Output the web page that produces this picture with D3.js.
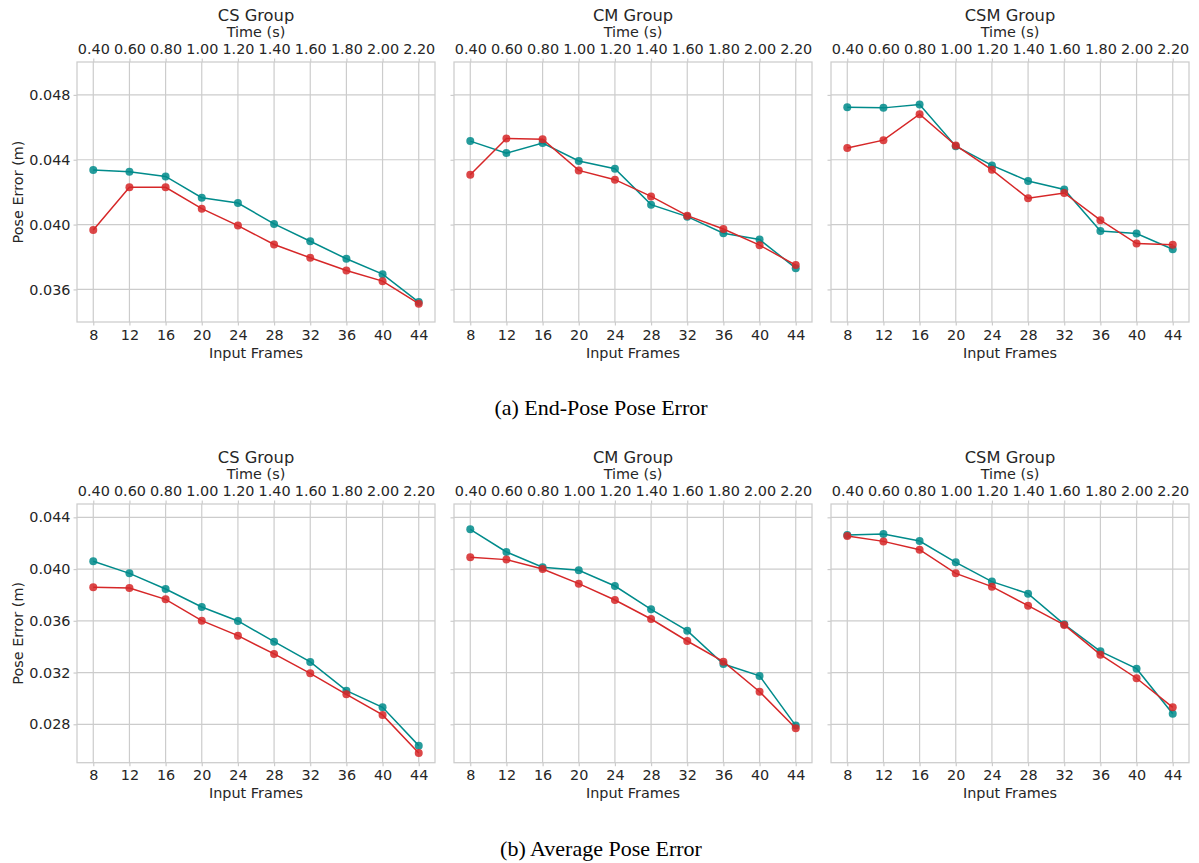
<!DOCTYPE html>
<html>
<head>
<meta charset="utf-8">
<script src="https://cdn.jsdelivr.net/npm/d3@7"></script>
<style>
  body { margin: 0; background: #fff; }
  .tick text { font-family: "DejaVu Sans", sans-serif; }
</style>
</head>
<body>
<div id="chart"></div>
<script>
// ---------------- data ----------------
var frames = [8, 12, 16, 20, 24, 28, 32, 36, 40, 44];
var timeLabels = ["0.40", "0.60", "0.80", "1.00", "1.20", "1.40", "1.60", "1.80", "2.00", "2.20"];
var groups = ["CS Group", "CM Group", "CSM Group"];
var captions = ["(a) End-Pose Pose Error", "(b) Average Pose Error"];

var endTicks = [0.036, 0.040, 0.044, 0.048];
var avgTicks = [0.028, 0.032, 0.036, 0.040, 0.044];

// end-pose error, teal / red series per group
var endCS_teal  = [0.04336, 0.04326, 0.04297, 0.04166, 0.04133, 0.04004, 0.03897, 0.03789, 0.03694, 0.03522];
var endCS_red   = [0.03967, 0.04230, 0.04230, 0.04098, 0.03994, 0.03877, 0.03795, 0.03717, 0.03651, 0.03512];
var endCM_teal  = [0.04515, 0.04441, 0.04503, 0.04392, 0.04345, 0.04123, 0.04049, 0.03947, 0.03908, 0.03731];
var endCM_red   = [0.04308, 0.04531, 0.04527, 0.04334, 0.04277, 0.04174, 0.04055, 0.03973, 0.03873, 0.03750];
var endCSM_teal = [0.04724, 0.04720, 0.04741, 0.04484, 0.04365, 0.04269, 0.04217, 0.03961, 0.03945, 0.03848];
var endCSM_red  = [0.04472, 0.04521, 0.04681, 0.04488, 0.04338, 0.04162, 0.04195, 0.04027, 0.03883, 0.03875];

// average pose error
var avgCS_teal  = [0.04060, 0.03967, 0.03846, 0.03707, 0.03599, 0.03439, 0.03282, 0.03060, 0.02931, 0.02635];
var avgCS_red   = [0.03859, 0.03854, 0.03766, 0.03601, 0.03485, 0.03344, 0.03194, 0.03032, 0.02872, 0.02578];
var avgCM_teal  = [0.04307, 0.04132, 0.04014, 0.03990, 0.03869, 0.03689, 0.03524, 0.03266, 0.03174, 0.02790];
var avgCM_red   = [0.04091, 0.04073, 0.04001, 0.03887, 0.03761, 0.03614, 0.03444, 0.03284, 0.03052, 0.02769];
var avgCSM_teal = [0.04263, 0.04271, 0.04217, 0.04052, 0.03903, 0.03810, 0.03573, 0.03364, 0.03230, 0.02882];
var avgCSM_red  = [0.04256, 0.04214, 0.04150, 0.03967, 0.03864, 0.03717, 0.03568, 0.03338, 0.03156, 0.02931];
// ---------------------------------------

var W = 1199, H = 863;
var TEAL = "#008b8b", RED = "#d62728";
var TEXT = "#262626", GRID = "#cccccc";
var panelX = [77, 454, 831];   // left edge of each plot frame
var panelW = 358;

var svg = d3.select("#chart").append("svg")
    .attr("width", W)
    .attr("height", H);

var rows = [
    { top: 62, height: 260, domain: [0.03399, 0.05003], ticks: endTicks,
      teal: [endCS_teal, endCM_teal, endCSM_teal], red: [endCS_red, endCM_red, endCSM_red], cap: 415 },
    { top: 504, height: 258.7, domain: [0.02503, 0.04503], ticks: avgTicks,
      teal: [avgCS_teal, avgCM_teal, avgCSM_teal], red: [avgCS_red, avgCM_red, avgCSM_red], cap: 856 }
];

function styleAxis(g) {
    g.select(".domain").remove();
    g.selectAll(".tick line").attr("stroke", GRID).attr("stroke-width", 1.2);
    g.selectAll(".tick text").attr("fill", TEXT).attr("font-size", "14.4px");
}

function drawPanel(row, p) {
    var x0 = panelX[p];
    var g = svg.append("g").attr("transform", "translate(" + x0 + "," + row.top + ")");
    var w = panelW, h = row.height;

    var x = d3.scaleLinear().domain([6.2, 45.8]).range([0, w]);
    var y = d3.scaleLinear().domain(row.domain).range([h, 0]);

    // grid
    g.append("g").selectAll("line").data(frames).join("line")
        .attr("x1", d => x(d)).attr("x2", d => x(d))
        .attr("y1", 0).attr("y2", h)
        .attr("stroke", GRID).attr("stroke-width", 1.2);
    g.append("g").selectAll("line").data(row.ticks).join("line")
        .attr("x1", 0).attr("x2", w)
        .attr("y1", d => y(d)).attr("y2", d => y(d))
        .attr("stroke", GRID).attr("stroke-width", 1.2);

    // frame
    g.append("rect")
        .attr("width", w).attr("height", h)
        .attr("fill", "none").attr("stroke", GRID).attr("stroke-width", 1.25);

    // axes
    var xb = g.append("g").attr("transform", "translate(0," + h + ")")
        .call(d3.axisBottom(x).tickValues(frames).tickSize(3.5).tickPadding(4));
    styleAxis(xb);

    var xt = g.append("g")
        .call(d3.axisTop(x).tickValues(frames).tickSize(3.5).tickPadding(5)
            .tickFormat((d, i) => timeLabels[i]));
    styleAxis(xt);

    var ya = g.append("g")
        .call(d3.axisLeft(y).tickValues(row.ticks).tickSize(3.5).tickPadding(3)
            .tickFormat(d3.format(".3f")));
    styleAxis(ya);
    if (p > 0) ya.selectAll(".tick text").remove();

    // labels
    g.append("text")
        .attr("x", w / 2).attr("y", -41)
        .attr("text-anchor", "middle")
        .attr("font-family", "DejaVu Sans, sans-serif")
        .attr("font-size", "16.3px").attr("fill", TEXT)
        .text(groups[p]);
    g.append("text")
        .attr("x", w / 2).attr("y", -24.8)
        .attr("text-anchor", "middle")
        .attr("font-family", "DejaVu Sans, sans-serif")
        .attr("font-size", "14.4px").attr("fill", TEXT)
        .text("Time (s)");
    g.append("text")
        .attr("x", w / 2).attr("y", h + 35.5)
        .attr("text-anchor", "middle")
        .attr("font-family", "DejaVu Sans, sans-serif")
        .attr("font-size", "14.4px").attr("fill", TEXT)
        .text("Input Frames");
    if (p == 0) {
        g.append("text")
            .attr("transform", "rotate(-90)")
            .attr("x", -h / 2).attr("y", 22.5 - x0)
            .attr("text-anchor", "middle")
            .attr("font-family", "DejaVu Sans, sans-serif")
            .attr("font-size", "14.4px").attr("fill", TEXT)
            .text("Pose Error (m)");
    }

    // series
    var line = d3.line().x((d, i) => x(frames[i])).y(d => y(d));
    [[row.teal[p], TEAL], [row.red[p], RED]].forEach(function (s) {
        g.append("path").datum(s[0])
            .attr("fill", "none").attr("stroke", s[1]).attr("stroke-width", 1.5)
            .attr("d", line);
        g.append("g").selectAll("circle").data(s[0]).join("circle")
            .attr("cx", (d, i) => x(frames[i]))
            .attr("cy", d => y(d))
            .attr("r", 4)
            .attr("fill", s[1]).attr("fill-opacity", 0.85);
    });
}

rows.forEach(function (row) {
    for (var p = 0; p < 3; p++) drawPanel(row, p);
});

rows.forEach(function (row, i) {
    svg.append("text")
        .attr("x", 601).attr("y", row.cap)
        .attr("text-anchor", "middle")
        .attr("font-family", "Liberation Serif, serif")
        .attr("font-size", "22px").attr("fill", "#000")
        .text(captions[i]);
});
</script>
</body>
</html>
